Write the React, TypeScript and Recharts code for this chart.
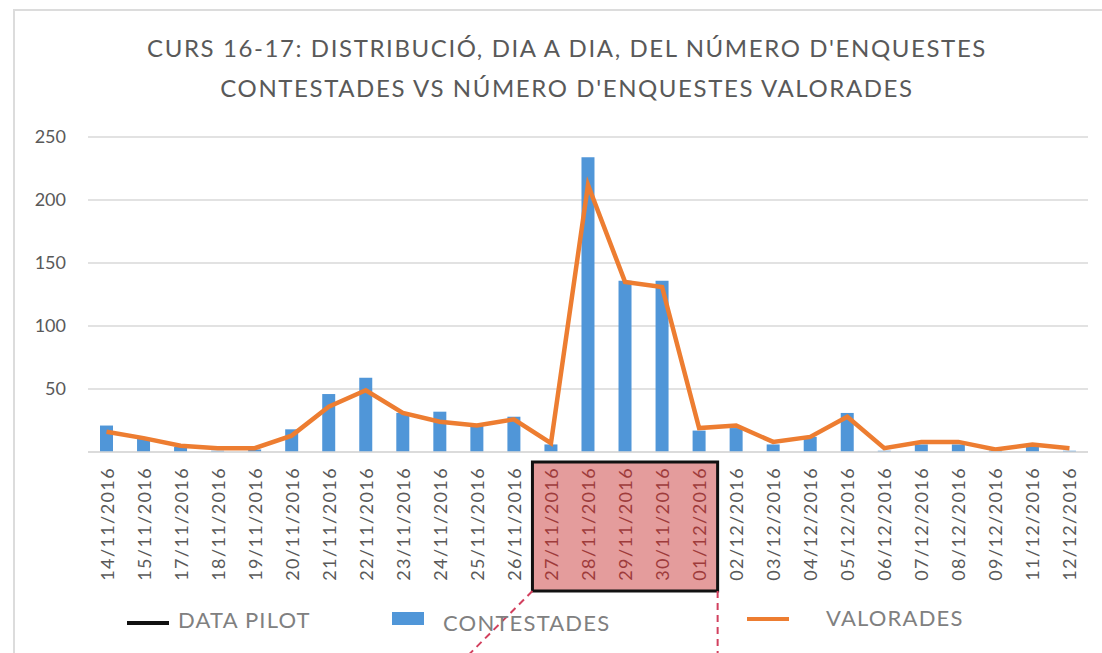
import { ComposedChart, Bar, Line, XAxis, YAxis, CartesianGrid } from 'recharts';

const dates = [
  '14/11/2016', '15/11/2016', '17/11/2016', '18/11/2016', '19/11/2016', '20/11/2016',
  '21/11/2016', '22/11/2016', '23/11/2016', '24/11/2016', '25/11/2016', '26/11/2016',
  '27/11/2016', '28/11/2016', '29/11/2016', '30/11/2016', '01/12/2016', '02/12/2016',
  '03/12/2016', '04/12/2016', '05/12/2016', '06/12/2016', '07/12/2016', '08/12/2016',
  '09/12/2016', '11/12/2016', '12/12/2016',
];
const contestades = [21, 11, 4, 1, 2, 18, 46, 59, 31, 32, 21, 28, 6, 234, 136, 136, 17, 19, 6, 12, 31, 1, 6, 6, 1, 4, 1];
const valorades = [16, 11, 5, 3, 3, 13, 36, 49, 31, 24, 21, 26, 7, 212, 135, 131, 19, 21, 8, 12, 28, 3, 8, 8, 2, 6, 3];
const pilotDates = ['27/11/2016', '28/11/2016', '29/11/2016', '30/11/2016', '01/12/2016'];
const yTicks = [0, 50, 100, 150, 200, 250];

const data = dates.map((d, i) => ({ date: d, contestades: contestades[i], valorades: valorades[i] }));

const FONT = 'Lato, "Open Sans", sans-serif';
const GRAY = '#595959';

// tick that also draws the "data pilot" box under the highlighted days
function DateTick(props: any) {
  const { x, y, payload, width, visibleTicksCount } = props;
  const band = width && visibleTicksCount ? width / visibleTicksCount : 37;
  const inPilot = pilotDates.includes(payload.value);
  const isFirst = payload.value === pilotDates[0];
  const boxTop = y + 8;
  const boxH = 129;
  const boxLeft = x - band / 2;
  const boxW = band * pilotDates.length;
  return (
    <g>
      {isFirst && (
        <g>
          <rect x={boxLeft} y={boxTop} width={boxW} height={boxH} fill="#e49c9c" stroke="#111" strokeWidth={3} />
          <line x1={boxLeft} y1={boxTop + boxH} x2={boxLeft - 66} y2={boxTop + boxH + 66} stroke="#d2405e" strokeWidth={2} strokeDasharray="7 5" />
          <line x1={boxLeft + boxW} y1={boxTop + boxH} x2={boxLeft + boxW} y2={boxTop + boxH + 70} stroke="#d2405e" strokeWidth={2} strokeDasharray="7 5" />
        </g>
      )}
      <text
        x={x}
        y={y + 13}
        transform={`rotate(-90, ${x}, ${y + 13})`}
        textAnchor="end"
        dominantBaseline="central"
        fontFamily={FONT}
        fontSize={18}
        letterSpacing={1.4}
        fill={inPilot ? '#9e3b3b' : GRAY}
      >
        {payload.value}
      </text>
    </g>
  );
}

export default function App() {
  return (
    <div style={{ position: 'absolute', left: 0, top: 0, width: 1102, height: 653, background: '#fff', overflow: 'hidden' }}>
      <div style={{ position: 'absolute', left: 13, top: 9, right: -2, bottom: -2, borderTop: '2px solid #dcdcdc', borderLeft: '2px solid #dcdcdc' }} />
      <div
        style={{
          position: 'absolute', left: 0, top: 28, width: 1134, textAlign: 'center',
          fontFamily: FONT, fontSize: 24, lineHeight: '40px', color: GRAY, letterSpacing: 1.6,
        }}
      >
        CURS 16-17: DISTRIBUCIÓ, DIA A DIA, DEL NÚMERO D'ENQUESTES
        <br />
        CONTESTADES VS NÚMERO D'ENQUESTES VALORADES
      </div>
      <div style={{ position: 'absolute', left: 0, top: 0 }}>
        <ComposedChart width={1102} height={653} data={data} margin={{ top: 137, right: 14, left: 0, bottom: 0 }}>
          <CartesianGrid vertical={false} stroke="#d9d9d9" strokeWidth={1.5} />
          <XAxis
            dataKey="date"
            interval={0}
            height={201}
            tickLine={false}
            tickSize={0}
            axisLine={{ stroke: '#d9d9d9', strokeWidth: 1.5 }}
            tick={<DateTick />}
          />
          <YAxis
            width={88}
            domain={[0, 250]}
            ticks={yTicks}
            tickFormatter={(v: number) => (v === 0 ? '' : String(v))}
            axisLine={false}
            tickLine={false}
            tickSize={0}
            tickMargin={22}
            tick={{ fill: GRAY, fontSize: 18, fontFamily: FONT }}
          />
          <Bar dataKey="contestades" fill="#5096d8" barSize={13} isAnimationActive={false} />
          <Line dataKey="valorades" type="linear" stroke="#ed7d31" strokeWidth={4.5} dot={false} isAnimationActive={false} />
        </ComposedChart>
      </div>
      <div style={{ position: 'absolute', left: 0, top: 604, width: 1102, height: 36, fontFamily: FONT, fontSize: 22, letterSpacing: 1.2, color: '#808080' }}>
        <div style={{ position: 'absolute', left: 127, top: 17, width: 42, height: 4, background: '#111' }} />
        <div style={{ position: 'absolute', left: 178, top: 2 }}>DATA PILOT</div>
        <div style={{ position: 'absolute', left: 392, top: 8, width: 32, height: 13, background: '#5096d8' }} />
        <div style={{ position: 'absolute', left: 443, top: 5 }}>CONTESTADES</div>
        <div style={{ position: 'absolute', left: 747, top: 13, width: 42, height: 4, background: '#ed7d31' }} />
        <div style={{ position: 'absolute', left: 826, top: 0 }}>VALORADES</div>
      </div>
    </div>
  );
}
